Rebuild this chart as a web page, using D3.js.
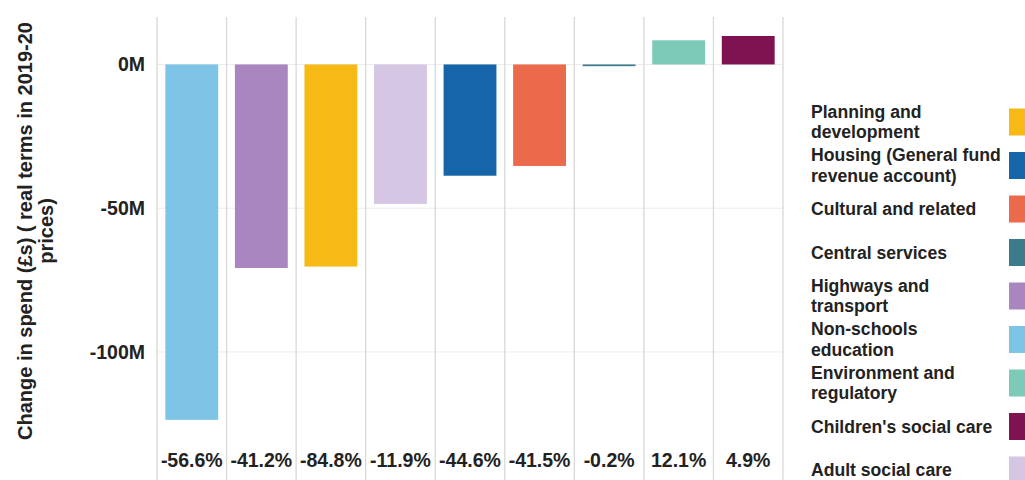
<!DOCTYPE html>
<html>
<head>
<meta charset="utf-8">
<script src="https://cdn.jsdelivr.net/npm/d3@7"></script>
<style>
  html, body { margin: 0; padding: 0; background: #fff; }
  svg { display: block; font-family: "Liberation Sans", Arial, sans-serif; }
</style>
</head>
<body>
<svg id="chart" width="1025" height="480"></svg>
<script>
// Service areas, in the order the bars are drawn
const categories = [
  "Non-schools education",
  "Highways and transport",
  "Planning and development",
  "Adult social care",
  "Housing (General fund revenue account)",
  "Cultural and related",
  "Central services",
  "Environment and regulatory",
  "Children's social care"
];
// Change in spend, £ millions (real terms, 2019-20 prices)
const changeMillions = [-123.6, -70.8, -70.3, -48.5, -38.7, -35.3, -0.6, 8.4, 9.9];
// Percentage change shown under each bar
const pctLabels = ["-56.6%", "-41.2%", "-84.8%", "-11.9%", "-44.6%", "-41.5%", "-0.2%", "12.1%", "4.9%"];
const barColors = ["#7dc4e6", "#a986bf", "#f6b915", "#d5c6e3", "#1565a8", "#ec6a4c", "#3c7b8b", "#7ecab8", "#7f1251"];
const yTicks = [0, -50, -100];

// Legend entries (label lines + colour)
const legendLabels = [
  ["Planning and", "development"],
  ["Housing (General fund", "revenue account)"],
  ["Cultural and related"],
  ["Central services"],
  ["Highways and", "transport"],
  ["Non-schools", "education"],
  ["Environment and", "regulatory"],
  ["Children's social care"],
  ["Adult social care"]
];
const legendColors = ["#f6b915", "#1565a8", "#ec6a4c", "#3c7b8b", "#a986bf", "#7dc4e6", "#7ecab8", "#7f1251", "#d5c6e3"];

const svg = d3.select("#chart");
const textColor = "#222";

const x = d3.scaleBand()
  .domain(categories)
  .range([157, 783])
  .paddingInner(0.24)
  .paddingOuter(0.12);

const y = d3.scaleLinear()
  .domain([-140, 16.5])
  .range([467, 17]);

const step = x.step();
const gridX = categories.map(c => x(c) - step * x.paddingInner() / 2);
gridX.push(x.range()[1]);

// horizontal gridlines
svg.append("g")
  .selectAll("line")
  .data(yTicks)
  .join("line")
  .attr("x1", 157).attr("x2", 783)
  .attr("y1", d => y(d)).attr("y2", d => y(d))
  .attr("stroke", "#ebebeb")
  .attr("stroke-width", 1);

// vertical separators between categories
svg.append("g")
  .selectAll("line")
  .data(gridX)
  .join("line")
  .attr("x1", d => d).attr("x2", d => d)
  .attr("y1", 17).attr("y2", 480)
  .attr("stroke", "#d8d8d8")
  .attr("stroke-width", 1.3);

// bars
svg.append("g")
  .selectAll("rect")
  .data(categories)
  .join("rect")
  .attr("x", d => x(d))
  .attr("width", x.bandwidth())
  .attr("y", (d, i) => y(Math.max(0, changeMillions[i])))
  .attr("height", (d, i) => Math.abs(y(changeMillions[i]) - y(0)))
  .attr("fill", (d, i) => barColors[i]);

// y axis
const yAxis = d3.axisLeft(y)
  .tickValues(yTicks)
  .tickFormat(d => `${d}M`)
  .tickSize(0)
  .tickPadding(0);

const gy = svg.append("g")
  .attr("transform", "translate(145,0)")
  .call(yAxis);
gy.select(".domain").remove();
gy.selectAll("text")
  .attr("font-family", "'Liberation Sans', Arial, sans-serif")
  .attr("font-size", 19.5)
  .attr("font-weight", "bold")
  .attr("fill", textColor);

// y axis title
const title = svg.append("text")
  .attr("transform", "translate(0,231) rotate(-90)")
  .attr("text-anchor", "middle")
  .attr("font-size", 20)
  .attr("font-weight", "bold")
  .attr("fill", textColor);
title.append("tspan").attr("x", 0).attr("y", 32).text("Change in spend (£s) ( real terms in 2019-20");
title.append("tspan").attr("x", 0).attr("y", 53).text("prices)");

// percentage change labels
svg.append("g")
  .selectAll("text")
  .data(categories)
  .join("text")
  .attr("x", d => x(d) + x.bandwidth() / 2)
  .attr("y", 467)
  .attr("text-anchor", "middle")
  .attr("font-size", 19.5)
  .attr("font-weight", "bold")
  .attr("fill", textColor)
  .text((d, i) => pctLabels[i]);

// legend
const legendTop = 122;
const legendGap = 43.5;
const lineH = 20.5;
const legend = svg.append("g");
legendLabels.forEach((lines, i) => {
  const cy = legendTop + i * legendGap;
  legend.append("rect")
    .attr("x", 1009).attr("y", cy - 13.5)
    .attr("width", 20).attr("height", 27)
    .attr("fill", legendColors[i]);
  const t = legend.append("text")
    .attr("font-size", 17.6)
    .attr("font-weight", "bold")
    .attr("fill", textColor);
  lines.forEach((ln, k) => {
    t.append("tspan")
      .attr("x", 811)
      .attr("y", cy + (k - (lines.length - 1) / 2) * lineH)
      .attr("dy", "0.35em")
      .text(ln);
  });
});
</script>
</body>
</html>
